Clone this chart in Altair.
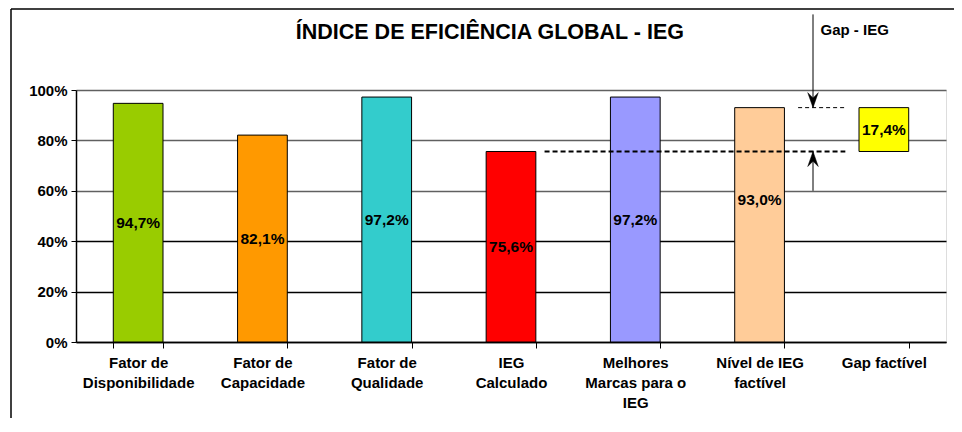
import altair as alt
import pandas as pd

# ---- data ----
categories = [
    "Fator de\nDisponibilidade",
    "Fator de\nCapacidade",
    "Fator de\nQualidade",
    "IEG\nCalculado",
    "Melhores\nMarcas para o\nIEG",
    "Nível de IEG\nfactível",
    "Gap factível",
]
values = [94.7, 82.1, 97.2, 75.6, 97.2, 93.0, 17.4]   # % (bar length)
bases = [0.0, 0.0, 0.0, 0.0, 0.0, 0.0, 75.6]          # floating start of the gap bar
label_at = [47.3, 41.0, 48.6, 37.8, 48.6, 56.5, 84.3]  # where the value label sits (%)
colors = ["#99CC00", "#FF9900", "#33CCCC", "#FF0000", "#9999FF", "#FFCC99", "#FFFF00"]
y_ticks = [0, 20, 40, 60, 80, 100]

ieg_calc = 75.6
ieg_target = 93.0
arrow_top = 130.0
arrow_bottom = 60.0
gap_text = "Gap - IEG"
title_text = "ÍNDICE DE EFICIÊNCIA GLOBAL - IEG"

FONT = "Liberation Sans"

df = pd.DataFrame({
    "cat": categories,
    "lo": [b / 100 for b in bases],
    "hi": [(b + v) / 100 for b, v in zip(bases, values)],
    "ly": [p / 100 for p in label_at],
    "lab": [f"{v:.1f}%".replace(".", ",") for v in values],
    "color": colors,
})

yscale = alt.Scale(domain=[0, 1], nice=False, zero=False)

x_enc = alt.X(
    "cat:N", sort=categories,
    scale=alt.Scale(paddingInner=0.6, paddingOuter=0.3),
    axis=alt.Axis(
        title=None, labelAngle=0, labelExpr="split(datum.label, '\\n')",
        labelFont=FONT, labelFontSize=15, labelFontWeight="bold", labelColor="black",
        labelLineHeight=20, labelBaseline="top", labelPadding=7,
        tickBand="extent", tickSize=6, tickColor="black", tickWidth=1,
        domainColor="black", domainWidth=1.5, grid=False,
    ),
)

y_axis = alt.Axis(
    title=None, values=[t / 100 for t in y_ticks], format=".0%",
    labelFont=FONT, labelFontSize=15, labelFontWeight="bold", labelColor="black",
    labelPadding=4, tickSize=5, tickColor="black", tickWidth=1,
    domainColor="black", domainWidth=1.5,
    grid=True, gridWidth=1.5,
    gridColor={"condition": {"test": "datum.value < 0.5", "value": "#000000"}, "value": "#606060"},
)

bars = alt.Chart(df).mark_bar(stroke="black", strokeWidth=1).encode(
    x=x_enc,
    y=alt.Y("lo:Q", scale=yscale, axis=y_axis),
    y2="hi:Q",
    color=alt.Color("color:N", scale=None),
)

labels = alt.Chart(df).mark_text(
    font=FONT, fontSize=15.5, fontWeight="bold", color="black", baseline="middle"
).encode(
    x=alt.X("cat:N", sort=categories),
    y=alt.Y("ly:Q", scale=yscale),
    text="lab:N",
)

main = alt.layer(bars, labels)

# ---- annotations (x in category-index units, 0..7) ----
xq = alt.Scale(domain=[0, 7], nice=False, zero=False)

hlines = pd.DataFrame({
    "x": [3.77, 5.81],
    "x2": [6.19, 6.19],
    "y": [ieg_calc / 100, ieg_target / 100],
    "kind": ["thick", "thin"],
})
thick = alt.Chart(hlines[hlines.kind == "thick"]).mark_rule(
    color="black", strokeWidth=2, strokeDash=[5, 3]
).encode(x=alt.X("x:Q", scale=xq, axis=None), x2="x2:Q", y=alt.Y("y:Q", scale=yscale))
thin = alt.Chart(hlines[hlines.kind == "thin"]).mark_rule(
    color="black", strokeWidth=1, strokeDash=[4, 3]
).encode(x=alt.X("x:Q", scale=xq, axis=None), x2="x2:Q", y=alt.Y("y:Q", scale=yscale))

stems = pd.DataFrame({
    "x": [5.93, 5.93],
    "y": [arrow_top / 100, arrow_bottom / 100],
    "y2": [ieg_target / 100, ieg_calc / 100],
})
stem = alt.Chart(stems).mark_rule(color="black", strokeWidth=1).encode(
    x=alt.X("x:Q", scale=xq, axis=None), y=alt.Y("y:Q", scale=yscale), y2="y2:Q"
)

down_head = alt.Chart(pd.DataFrame({"x": [5.93], "y": [ieg_target / 100]})).mark_point(
    shape="M0,0 L-0.35,-1 L0,-0.65 L0.35,-1 Z", filled=True, fill="black",
    stroke="black", strokeWidth=0.5, size=900, opacity=1
).encode(x=alt.X("x:Q", scale=xq, axis=None), y=alt.Y("y:Q", scale=yscale))
up_head = alt.Chart(pd.DataFrame({"x": [5.93], "y": [ieg_calc / 100]})).mark_point(
    shape="M0,0 L-0.35,1 L0,0.65 L0.35,1 Z", filled=True, fill="black",
    stroke="black", strokeWidth=0.5, size=900, opacity=1
).encode(x=alt.X("x:Q", scale=xq, axis=None), y=alt.Y("y:Q", scale=yscale))

gap_lbl = alt.Chart(pd.DataFrame({"x": [5.99], "y": [1.24], "t": [gap_text]})).mark_text(
    font=FONT, fontSize=15, fontWeight="bold", color="black", align="left", baseline="middle"
).encode(x=alt.X("x:Q", scale=xq, axis=None), y=alt.Y("y:Q", scale=yscale), text="t:N")

title_mark = alt.Chart(pd.DataFrame({"x": [3.33], "y": [1.225], "t": [title_text]})).mark_text(
    font=FONT, fontSize=21.5, fontWeight="bold", color="black", align="center", baseline="middle"
).encode(x=alt.X("x:Q", scale=xq, axis=None), y=alt.Y("y:Q", scale=yscale), text="t:N")

# outer frame of the chart (left and top edges)
frame_left = alt.Chart(pd.DataFrame({"a": [0]})).mark_rule(color="black", strokeWidth=1.5).encode(
    x=alt.value(-65), y=alt.value(-81), y2=alt.value(330)
)
frame_top = alt.Chart(pd.DataFrame({"a": [0]})).mark_rule(color="black", strokeWidth=1.5).encode(
    x=alt.value(-65), x2=alt.value(880), y=alt.value(-81)
)

annot = alt.layer(thick, thin, stem, down_head, up_head, gap_lbl, title_mark, frame_left, frame_top)

chart = alt.layer(main, annot).resolve_scale(x="independent").properties(
    width=870, height=252,
    autosize=alt.AutoSizeParams(type="none"),
    padding={"left": 68, "top": 82, "right": 8, "bottom": 76},
    background="white",
).configure_view(
    fill="#C0C0C0", stroke="#808080", strokeWidth=1.5
).configure(font=FONT)

chart.save("out.html", embed_options={"renderer": "svg", "actions": False})
